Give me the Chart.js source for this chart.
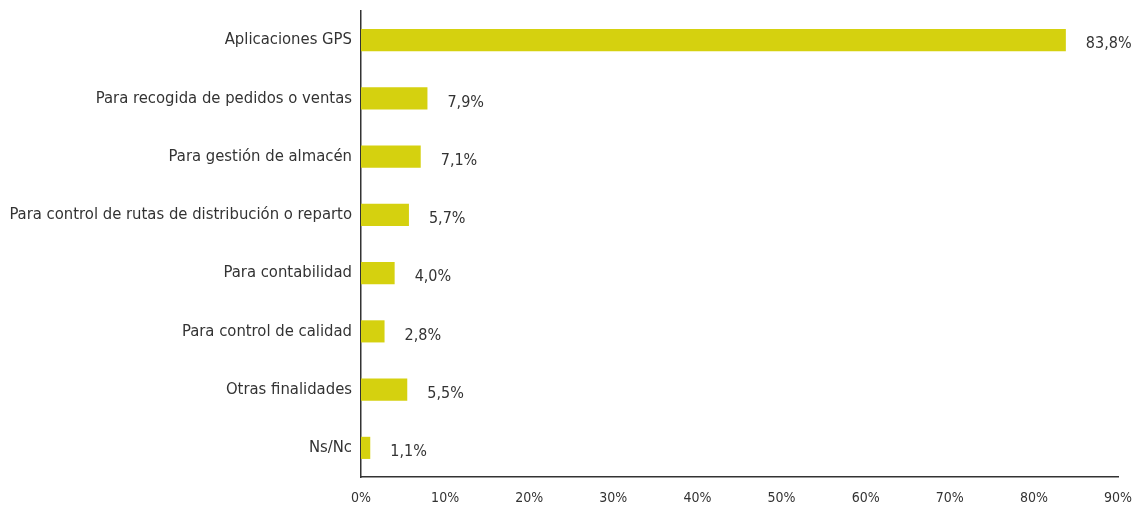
<!DOCTYPE html>
<html>
<head>
<meta charset="utf-8">
<script src="https://cdn.jsdelivr.net/npm/chart.js@4/dist/chart.umd.min.js"></script>
<style>
  html, body { margin: 0; padding: 0; background: #fff; }
  #wrap { width: 1138px; height: 510px; }
</style>
</head>
<body>
<div id="wrap"><canvas id="my-chart"></canvas></div>
<script>
const categories = [
  'Aplicaciones GPS',
  'Para recogida de pedidos o ventas',
  'Para gestión de almacén',
  'Para control de rutas de distribución o reparto',
  'Para contabilidad',
  'Para control de calidad',
  'Otras finalidades',
  'Ns/Nc'
];
const percentages = [83.8, 7.9, 7.1, 5.7, 4.0, 2.8, 5.5, 1.1];

const fontFamily = '"Liberation Sans Narrow", "DejaVu Sans Condensed", Arial, sans-serif';
const textColor = '#333333';

// writes "83,8%" style labels just past the end of each bar
const valueLabels = {
  id: 'valueLabels',
  afterDatasetsDraw(chart) {
    const ctx = chart.ctx;
    const meta = chart.getDatasetMeta(0);
    ctx.save();
    ctx.font = '16px ' + fontFamily;
    ctx.fillStyle = textColor;
    ctx.textAlign = 'left';
    ctx.textBaseline = 'middle';
    meta.data.forEach((bar, i) => {
      const txt = percentages[i].toFixed(1).replace('.', ',') + '%';
      ctx.fillText(txt, bar.x + 20, bar.y + 4);
    });
    ctx.restore();
  }
};

const ctx = document.getElementById('my-chart').getContext('2d');
const chart = new Chart(ctx, {
  type: 'bar',
  data: {
    labels: categories,
    datasets: [{
      data: percentages,
      backgroundColor: 'rgb(213, 209, 15)',
      barPercentage: 0.38,
      categoryPercentage: 1.0
    }]
  },
  options: {
    indexAxis: 'y',
    responsive: true,
    maintainAspectRatio: false,
    animation: false,
    layout: { padding: { top: 11, right: 20, left: 0, bottom: 0 } },
    plugins: {
      legend: { display: false },
      tooltip: { enabled: false }
    },
    scales: {
      x: {
        min: 0,
        max: 90,
        grid: { display: false, tickLength: 0 },
        border: { display: true, color: '#333333', width: 1.5 },
        ticks: {
          stepSize: 10,
          padding: 13,
          color: textColor,
          font: { family: fontFamily, size: 14 },
          callback: v => v + '%'
        },
        afterFit: scale => {
          scale.height = 33;
          scale.paddingLeft = 0;
          scale.paddingRight = 0;
        }
      },
      y: {
        grid: { display: false, tickLength: 0 },
        border: { display: true, color: '#333333', width: 1.5 },
        ticks: {
          padding: 9,
          color: textColor,
          font: { family: fontFamily, size: 16.5 }
        },
        afterFit: scale => {
          scale.width = 361;
          scale.paddingTop = 0;
          scale.paddingBottom = 0;
        }
      }
    }
  },
  plugins: [valueLabels]
});
</script>
</body>
</html>
